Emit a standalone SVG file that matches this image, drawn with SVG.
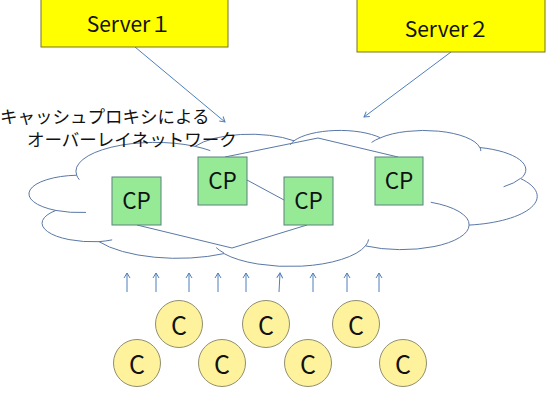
<svg xmlns="http://www.w3.org/2000/svg" width="546" height="409" viewBox="0 0 546 409">
<style>
.srv{fill:#FFFF00;stroke:#77771c;stroke-width:1}
.cp{fill:#96EA96;stroke:#5a8080;stroke-width:1}
.cl{fill:#FFF29C;stroke:#8f8f70;stroke-width:1}
.t{font-family:"Noto Sans CJK JP","Noto Sans",sans-serif;fill:#111}
.link{fill:none;stroke:#5a78a6;stroke-width:1}
.arr{fill:none;stroke:#4f7fbd;stroke-width:1;marker-end:url(#ah)}
.cloud{fill:#fff;stroke:#5a78a6;stroke-width:1}
</style>
<defs>
<marker id="ah" markerUnits="userSpaceOnUse" markerWidth="10" markerHeight="10" refX="6" refY="4" orient="auto">
<path d="M1,1 L6,4 L1,7" fill="none" stroke="#4f7fbd" stroke-width="1"/>
</marker>
</defs>
<rect width="546" height="409" fill="#fff"/>
<g id="cloud">
<g transform="translate(31,130) scale(0.011713,0.0031481)">
<path class="cloud" vector-effect="non-scaling-stroke" d="M3900,14370 A6753,9190 0 0 1 14003,5198 A5333,7267 0 0 1 22454,3427 A4365,5945 0 0 1 29832,2478 A4857,6595 0 0 1 38317,5573 A5333,7273 0 0 1 41817,15456 A6775,9220 0 0 1 37403,30200 A5785,7867 0 0 1 28553,36809 A6752,9215 0 0 1 16479,39263 A7720,10543 0 0 1 5812,35468 A4360,5918 0 0 1 2120,25547 A4345,5945 0 0 1 3900,14370 Z"/>
<path fill="none" stroke="#5a78a6" stroke-width="1" vector-effect="non-scaling-stroke" d="M4693,26177 A4345,5945 0 0 1 2120,25547 M6928,34899 A4360,5918 0 0 1 5812,35468 M16478,39090 A6752,9215 0 0 1 15809,37348 M28827,34751 A6752,9215 0 0 1 28553,36809 M34129,22954 A5785,7867 0 0 1 37403,30200 M41798,15354 A5333,7273 0 0 1 40348,18031 M38324,5426 A4857,6595 0 0 1 38401,6690 M29078,3952 A4857,6595 0 0 1 29832,2478 M22141,4720 A4365,5945 0 0 1 22454,3427 M14000,5192 A6753,9190 0 0 1 15306,6550 M4127,15789 A6753,9190 0 0 1 3900,14370"/>
</g>
</g>
<g id="label">
<text class="t" x="0" y="123" font-size="17.5">キャッシュプロキシによる</text>
<text class="t" x="27" y="146" font-size="17.5">オーバーレイネットワーク</text>
</g>
<g id="connectors">
<polyline class="link" points="225,157 318,138 398,157"/>
<line class="link" x1="247" y1="180" x2="284" y2="200"/>
<polyline class="link" points="137,225 232,248 307,225"/>
<line class="arr" x1="135" y1="47" x2="225" y2="122"/>
<line class="arr" x1="451" y1="52" x2="364" y2="117"/>
<line class="arr" x1="127" y1="292" x2="127" y2="273"/>
<line class="arr" x1="156" y1="292" x2="156" y2="273"/>
<line class="arr" x1="189" y1="292" x2="189" y2="273"/>
<line class="arr" x1="218" y1="292" x2="218" y2="273"/>
<line class="arr" x1="246" y1="292" x2="246" y2="273"/>
<line class="arr" x1="279" y1="292" x2="280" y2="273"/>
<line class="arr" x1="313" y1="292" x2="313" y2="273"/>
<line class="arr" x1="347" y1="292" x2="347" y2="273"/>
<line class="arr" x1="379" y1="292" x2="379" y2="273"/>
</g>
<g id="server1">
<rect class="srv" x="41" y="-2" width="187" height="49"/>
<text class="t" x="129" y="32" font-size="21" text-anchor="middle">Server１</text>
</g>
<g id="server2">
<rect class="srv" x="357" y="-2" width="188" height="54"/>
<text class="t" x="447" y="37" font-size="21" text-anchor="middle">Server２</text>
</g>
<g id="cp1"><rect class="cp" x="112" y="177" width="49" height="48"/><text class="t" x="136.5" y="209" font-size="22.5" text-anchor="middle">CP</text></g>
<g id="cp2"><rect class="cp" x="198" y="157" width="49" height="48"/><text class="t" x="222.5" y="189" font-size="22.5" text-anchor="middle">CP</text></g>
<g id="cp3"><rect class="cp" x="284" y="177" width="49" height="48"/><text class="t" x="308.5" y="209" font-size="22.5" text-anchor="middle">CP</text></g>
<g id="cp4"><rect class="cp" x="375" y="157" width="48" height="48"/><text class="t" x="399" y="189" font-size="22.5" text-anchor="middle">CP</text></g>
<g id="c1"><circle class="cl" cx="179" cy="324" r="23.5"/><text class="t" x="179" y="335" font-size="25" text-anchor="middle">C</text></g>
<g id="c2"><circle class="cl" cx="266" cy="324" r="23.5"/><text class="t" x="266" y="335" font-size="25" text-anchor="middle">C</text></g>
<g id="c3"><circle class="cl" cx="356" cy="324" r="23.5"/><text class="t" x="356" y="335" font-size="25" text-anchor="middle">C</text></g>
<g id="c4"><circle class="cl" cx="137" cy="363" r="23.5"/><text class="t" x="137" y="374" font-size="25" text-anchor="middle">C</text></g>
<g id="c5"><circle class="cl" cx="222" cy="363" r="23.5"/><text class="t" x="222" y="374" font-size="25" text-anchor="middle">C</text></g>
<g id="c6"><circle class="cl" cx="308" cy="363" r="23.5"/><text class="t" x="308" y="374" font-size="25" text-anchor="middle">C</text></g>
<g id="c7"><circle class="cl" cx="403" cy="363" r="23.5"/><text class="t" x="403" y="374" font-size="25" text-anchor="middle">C</text></g>
</svg>
